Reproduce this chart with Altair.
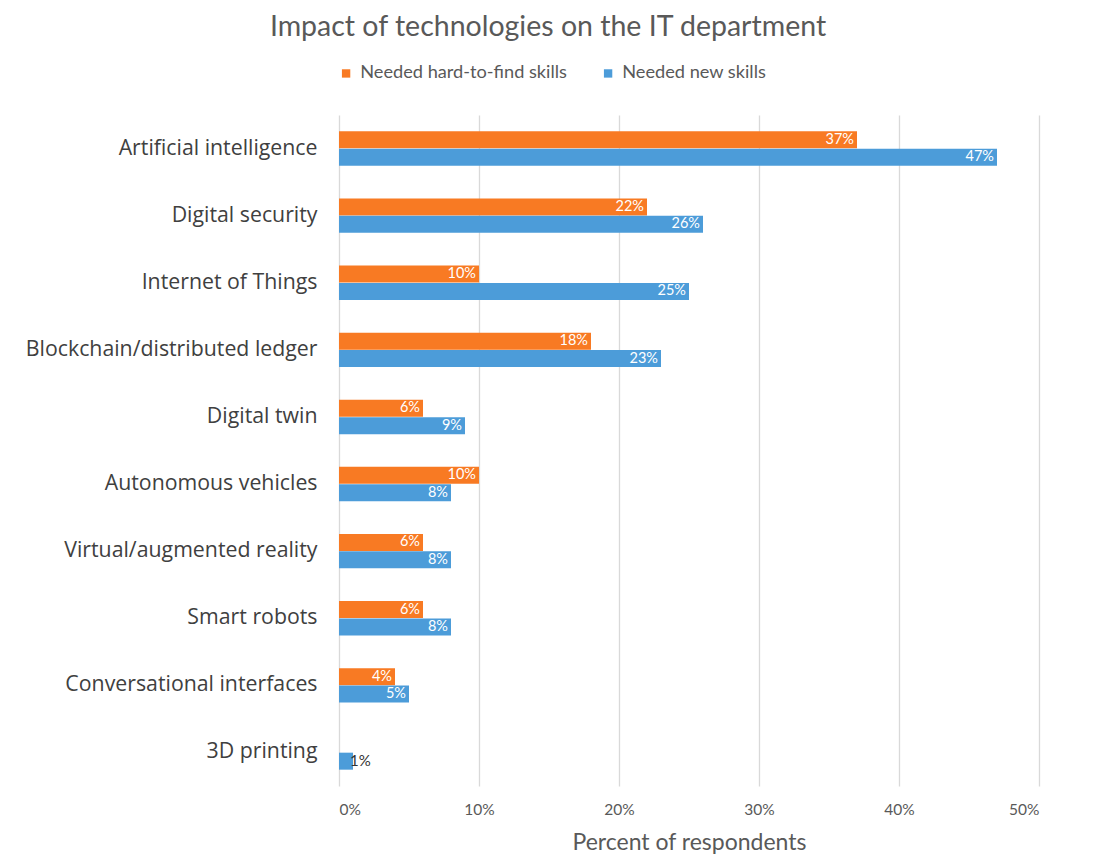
import altair as alt
import pandas as pd

categories = ["Artificial intelligence", "Digital security", "Internet of Things",
              "Blockchain/distributed ledger", "Digital twin", "Autonomous vehicles",
              "Virtual/augmented reality", "Smart robots", "Conversational interfaces",
              "3D printing"]
hard_to_find = [37, 22, 10, 18, 6, 10, 6, 6, 4, 0]
new_skills = [47, 26, 25, 23, 9, 8, 8, 8, 5, 1]
series = ["Needed hard-to-find skills", "Needed new skills"]
colors = ["#F87A23", "#4C9CD9"]
x_ticks = [0, 10, 20, 30, 40, 50]

rows = []
for c, h, n in zip(categories, hard_to_find, new_skills):
    rows.append({"category": c, "series": series[0], "value": h})
    rows.append({"category": c, "series": series[1], "value": n})
df = pd.DataFrame(rows)

FONT = "Open Sans"
FONT2 = "Lato"
TXT = "#595959"

y_enc = alt.Y("category:N", sort=categories, title=None,
              scale=alt.Scale(paddingInner=0.48, paddingOuter=0.24),
              axis=alt.Axis(labelFontSize=21.3, labelColor="#404040", labelFont=FONT,
                            ticks=False, domain=False, labelPadding=22, labelLimit=400))
x_enc = alt.X("value:Q", title="Percent of respondents",
              scale=alt.Scale(domain=[0, 50], nice=False),
              axis=alt.Axis(values=x_ticks, labelExpr="datum.value + '%'",
                            labelFontSize=15.5, labelColor=TXT, labelFont=FONT2,
                            titleFontSize=23, titleColor=TXT, titleFont=FONT2,
                            titleFontWeight="normal", titlePadding=14,
                            ticks=False, domain=False, labelPadding=16,
                            grid=True, gridColor="#D9D9D9", gridWidth=1.3))

base = alt.Chart(df).encode(
    y=y_enc,
    yOffset=alt.YOffset("series:N", sort=series),
)

bars = base.mark_bar(size=17).encode(
    x=x_enc,
    color=alt.Color("series:N", sort=series,
                    scale=alt.Scale(domain=series, range=colors),
                    legend=alt.Legend(title=None, orient="none", direction="horizontal",
                                      legendX=-2, legendY=-51, symbolType="square",
                                      symbolSize=70, symbolStrokeWidth=0,
                                      labelFontSize=18.2, labelColor=TXT, labelFont=FONT2,
                                      labelLimit=400, columnPadding=32, symbolOffset=0,
                                      labelOffset=5)),
)

labels_in = base.mark_text(align="right", dx=-3, fontSize=14.5, color="white",
                           font=FONT2, baseline="middle").encode(
    x="value:Q",
    text=alt.Text("label:N"),
).transform_filter("datum.value > 1").transform_calculate(label="datum.value + '%'")

labels_out = base.mark_text(align="left", dx=-3, fontSize=15, color="#333333",
                            font=FONT2, baseline="middle").encode(
    x="value:Q",
    text=alt.Text("label:N"),
).transform_filter("datum.value == 1").transform_calculate(label="datum.value + '%'")

chart = alt.layer(bars, labels_in, labels_out).properties(
    width=700, height=671,
    title=alt.TitleParams("Impact of technologies on the IT department", fontSize=28.5,
                          color=TXT, font=FONT2, fontWeight="normal", dx=-141,
                          offset=23, anchor="middle"),
    autosize=alt.AutoSizeParams(type="none"),
    padding={"left": 331, "top": 107, "right": 40, "bottom": 70},
).configure_view(stroke=None)

chart.save("out.html", embed_options={"renderer": "svg", "actions": False})
